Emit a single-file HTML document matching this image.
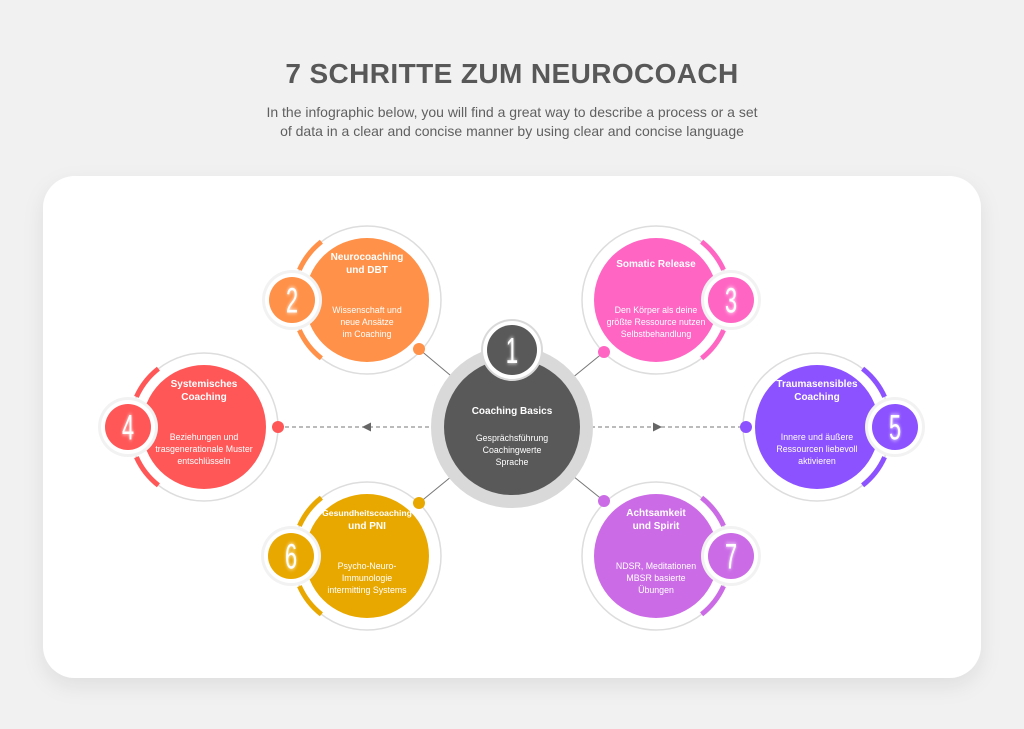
<!DOCTYPE html>
<html><head><meta charset="utf-8"><style>
body{margin:0;width:1024px;height:724px;background:#f1f1f1;overflow:hidden;font-family:"Liberation Sans",sans-serif}
</style></head><body>
<svg id="s" width="1024" height="724" viewBox="0 0 1024 724" xmlns="http://www.w3.org/2000/svg" font-family="Liberation Sans, sans-serif">
<defs>
<filter id="sh" x="-10%" y="-10%" width="120%" height="130%"><feDropShadow dx="0" dy="8" stdDeviation="10" flood-color="#000" flood-opacity="0.08"/></filter>
<filter id="gl" x="-50%" y="-50%" width="200%" height="200%"><feGaussianBlur stdDeviation="2" result="b"/><feMerge><feMergeNode in="b"/><feMergeNode in="SourceGraphic"/></feMerge></filter>
</defs>
<text x="512" y="83" text-anchor="middle" font-size="28" font-weight="bold" fill="#585858" letter-spacing="0.4">7 SCHRITTE ZUM NEUROCOACH</text>
<text x="512" y="117" text-anchor="middle" font-size="14" fill="#606060">In the infographic below, you will find a great way to describe a process or a set</text>
<text x="512" y="136" text-anchor="middle" font-size="14" fill="#606060">of data in a clear and concise manner by using clear and concise language</text>
<rect x="43" y="176" width="938" height="502" rx="32" fill="#fff" filter="url(#sh)"/>
<g id="g"></g>
</svg>
<script>
var g=document.getElementById('g'),h='';
function P(cx,cy,r,a){a=a*Math.PI/180;return [(cx+r*Math.cos(a)).toFixed(1),(cy-r*Math.sin(a)).toFixed(1)];}
function arc(cx,cy,r,a1,a2,c){var p=P(cx,cy,r,a1),q=P(cx,cy,r,a2);return '<path d="M'+p+' A'+r+' '+r+' 0 0 0 '+q+'" stroke="'+c+'" stroke-width="5" fill="none"/>';}
h+='<g stroke="#777" stroke-width="1">';
h+='<line x1="278" y1="427" x2="440" y2="427" stroke-dasharray="4 3"/>';
h+='<line x1="584" y1="427" x2="746" y2="427" stroke-dasharray="4 3"/>';
[[419,349],[604,352],[419,503],[604,501]].forEach(function(d){h+='<line x1="'+d[0]+'" y1="'+d[1]+'" x2="512" y2="427"/>';});
h+='</g>';
h+='<path d="M362 427 L371 422.5 L371 431.5Z" fill="#666"/><path d="M662 427 L653 422.5 L653 431.5Z" fill="#666"/>';
var C=[
 [367,300,'#FF9148',180,292,300,'2',['Neurocoaching','und DBT'],['Wissenschaft und','neue Ansätze','im Coaching'],[419,349]],
 [656,300,'#FF66C4',0,731,300,'3',['Somatic Release'],['Den Körper als deine','größte Ressource nutzen','Selbstbehandlung'],[604,352]],
 [204,427,'#FF5757',180,128,427,'4',['Systemisches','Coaching'],['Beziehungen und','trasgenerationale Muster','entschlüsseln'],[278,427]],
 [817,427,'#8C52FF',0,895,427,'5',['Traumasensibles','Coaching'],['Innere und äußere','Ressourcen liebevoll','aktivieren'],[746,427]],
 [367,556,'#E9A800',180,291,556,'6',['Gesundheitscoaching','und PNI'],['Psycho-Neuro-','Immunologie','intermitting Systems'],[419,503]],
 [656,556,'#CB6CE6',0,731,556,'7',['Achtsamkeit','und Spirit'],['NDSR, Meditationen','MBSR basierte','Übungen'],[604,501]]
];
C.forEach(function(c){
 var cx=c[0],cy=c[1],col=c[2],a=c[3];
 h+='<circle cx="'+cx+'" cy="'+cy+'" r="74" fill="#fff" stroke="#ddd" stroke-width="1.5"/>';
 h+=arc(cx,cy,74,a+24,a+52,col)+arc(cx,cy,74,a-52,a-24,col);
 h+='<circle cx="'+cx+'" cy="'+cy+'" r="62" fill="'+col+'"/>';
 h+='<circle cx="'+c[4]+'" cy="'+c[5]+'" r="30" fill="#f2f2f2"/><circle cx="'+c[4]+'" cy="'+c[5]+'" r="27" fill="#fff"/><circle cx="'+c[4]+'" cy="'+c[5]+'" r="23" fill="'+col+'"/>';
 h+='<text transform="translate('+c[4]+' '+(c[5]+12.5)+') scale(0.62 1)" text-anchor="middle" font-size="35" fill="#fff" filter="url(#gl)">'+c[6]+'</text>';
 var t=c[7],b=c[8],ty=t.length==1?cy-33:cy-40;
 t.forEach(function(s,i){var fs=s.length>16?8.6:10;h+='<text x="'+cx+'" y="'+(ty+i*13)+'" text-anchor="middle" font-size="'+fs+'" font-weight="bold" fill="#fff">'+s+'</text>';});
 b.forEach(function(s,i){h+='<text x="'+cx+'" y="'+(cy+13+i*12)+'" text-anchor="middle" font-size="8.8" fill="#fff">'+s+'</text>';});
 h+='<circle cx="'+c[9][0]+'" cy="'+c[9][1]+'" r="6" fill="'+col+'"/>';
});
h+='<circle cx="512" cy="427" r="81" fill="#d9d9d9"/><circle cx="512" cy="427" r="68" fill="#595959"/>';
h+='<circle cx="512" cy="350" r="31" fill="#d9d9d9"/><circle cx="512" cy="350" r="29" fill="#fff"/><circle cx="512" cy="350" r="25" fill="#595959"/>';
h+='<text transform="translate(512 363) scale(0.62 1)" text-anchor="middle" font-size="36" fill="#fff" filter="url(#gl)">1</text>';
h+='<text x="512" y="414" text-anchor="middle" font-size="10" font-weight="bold" fill="#fff">Coaching Basics</text>';
['Gesprächsführung','Coachingwerte','Sprache'].forEach(function(s,i){h+='<text x="512" y="'+(441+i*12)+'" text-anchor="middle" font-size="8.8" fill="#fff">'+s+'</text>';});
g.innerHTML=h;
</script>
</body></html>
